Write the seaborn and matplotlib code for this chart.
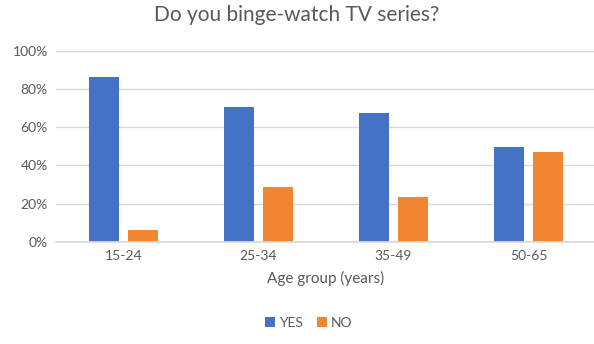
import matplotlib
matplotlib.use("Agg")
import matplotlib.pyplot as plt
import seaborn as sns
import pandas as pd
from matplotlib.ticker import PercentFormatter
from matplotlib.patches import Patch

categories = ["15-24", "25-34", "35-49", "50-65"]
yes_values = [0.863, 0.703, 0.672, 0.495]
no_values = [0.063, 0.289, 0.233, 0.470]
series = ["YES", "NO"]
colors = ["#4472C4", "#F08532"]
yticks = [0, 0.2, 0.4, 0.6, 0.8, 1.0]

df = pd.DataFrame({
    "Age": categories * 2,
    "Answer": ["YES"] * len(categories) + ["NO"] * len(categories),
    "Value": yes_values + no_values,
})

sns.set_theme(style="white")
plt.rcParams["font.family"] = ["Lato", "DejaVu Sans"]

fig = plt.figure(figsize=(5.94, 3.44), dpi=100)
ax = fig.add_axes([56 / 594, 1 - 242 / 344, 540 / 594, (242 - 50.5) / 344])

sns.barplot(data=df, x="Age", y="Value", hue="Answer", order=categories,
            hue_order=series, palette=colors, width=0.57, gap=0.23,
            saturation=1, ax=ax, legend=False, linewidth=0, edgecolor="none")

ax.set_ylim(0, 1.0)
ax.set_yticks(yticks)
ax.yaxis.set_major_formatter(PercentFormatter(1.0, decimals=0))
ax.grid(axis="y", color="#d9d9d9", linewidth=1)
ax.set_axisbelow(True)
for s in ["top", "right", "left"]:
    ax.spines[s].set_visible(False)
ax.spines["bottom"].set_color("#d9d9d9")
ax.tick_params(axis="both", length=0, labelsize=10, colors="#595959", pad=6)
ax.set_xlabel("Age group (years)", fontsize=11, color="#595959", labelpad=6)
ax.set_ylabel("")

fig.suptitle("Do you binge-watch TV series?", fontsize=15, color="#595959", y=0.985, x=0.5)

handles = [Patch(facecolor=c, edgecolor="none", label=s) for c, s in zip(colors, series)]
fig.legend(handles=handles, loc="center", bbox_to_anchor=(0.52, 0.062), ncol=2,
           frameon=False, fontsize=10, labelcolor="#595959", handlelength=0.7,
           handleheight=0.7, handletextpad=0.3, columnspacing=1.0)

fig.savefig("out.png", dpi=100)
